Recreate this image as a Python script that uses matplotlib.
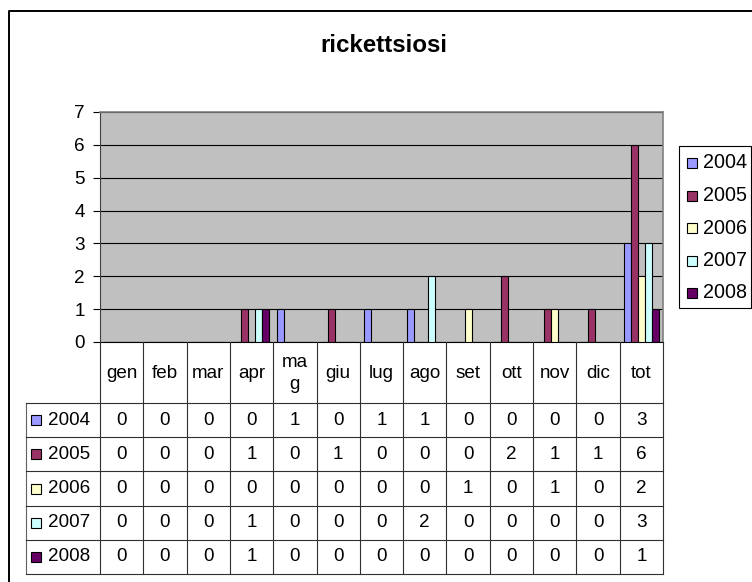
import numpy as np
import matplotlib
matplotlib.use("Agg")
import matplotlib.pyplot as plt
from matplotlib.patches import Rectangle

plt.rcParams["font.family"] = ["Liberation Sans", "DejaVu Sans"]

# Datos del grafico
title = "rickettsiosi"
months = ["gen", "feb", "mar", "apr", "mag", "giu", "lug", "ago", "set", "ott", "nov", "dic", "tot"]
years = ["2004", "2005", "2006", "2007", "2008"]
v2004 = [0, 0, 0, 0, 1, 0, 1, 1, 0, 0, 0, 0, 3]
v2005 = [0, 0, 0, 1, 0, 1, 0, 0, 0, 2, 1, 1, 6]
v2006 = [0, 0, 0, 0, 0, 0, 0, 0, 1, 0, 1, 0, 2]
v2007 = [0, 0, 0, 1, 0, 0, 0, 2, 0, 0, 0, 0, 3]
v2008 = [0, 0, 0, 1, 0, 0, 0, 0, 0, 0, 0, 0, 1]
series = [v2004, v2005, v2006, v2007, v2008]
colors = ["#9999FF", "#993366", "#FFFFCC", "#CCFFFF", "#660066"]
yticks = [0, 1, 2, 3, 4, 5, 6, 7]

W, H = 752, 582
FS = 13.6

fig = plt.figure(figsize=(W / 100, H / 100), dpi=100)

# Area del grafico (coordenadas en pixeles)
px_l, px_r, px_t, px_b = 100, 663, 112, 342
ax = fig.add_axes([px_l / W, (H - px_b) / H, (px_r - px_l) / W, (px_b - px_t) / H])
ax.set_facecolor("#C0C0C0")
ax.set_xlim(-0.5, len(months) - 0.5)
ax.set_ylim(0, 7)
ax.set_yticks(yticks)
ax.set_xticks([])
ax.tick_params(axis="y", length=5, width=0.8, pad=6, labelsize=FS, direction="out")
ax.yaxis.grid(True, color="black", linewidth=0.8)
ax.set_axisbelow(True)
for s in ["top", "right"]:
    ax.spines[s].set_color("#808080")
    ax.spines[s].set_linewidth(1.2)
ax.spines["left"].set_color("#404040")
ax.spines["bottom"].set_color("black")

x = np.arange(len(months))
bw = 0.162
for k, (vals, c) in enumerate(zip(series, colors)):
    ax.bar(x + (k - 2) * bw, vals, width=bw, color=c, edgecolor="black",
           linewidth=0.8, zorder=3)

# Capa superpuesta en pixeles para marco, titulo, leyenda y tabla
ov = fig.add_axes([0, 0, 1, 1], zorder=5)
ov.set_xlim(0, W)
ov.set_ylim(H, 0)
ov.axis("off")
ov.patch.set_alpha(0)

# Marco exterior
ov.plot([9, 9, W], [H, 11, 11], color="black", linewidth=1.4, solid_capstyle="butt")

ov.text(384, 46, title, ha="center", va="center", fontsize=17.4, fontweight="bold")

# Leyenda
ov.add_patch(Rectangle((679, 146), 72, 162, facecolor="white", edgecolor="black", linewidth=0.8))
leg_y0, leg_dy = 163, 32.5
for k, (yr, c) in enumerate(zip(years, colors)):
    yy = leg_y0 + k * leg_dy
    ov.add_patch(Rectangle((687, yy - 5), 10, 10, facecolor=c, edgecolor="black", linewidth=0.8))
    ov.text(703, yy, yr, ha="left", va="center", fontsize=14.2)

# Tabla de datos
col_w = (px_r - px_l) / len(months)
col_edges = [px_l + i * col_w for i in range(len(months) + 1)]
head_b = 403
row_h = 34.2
row_edges = [head_b + r * row_h for r in range(len(years) + 1)]
lab_l = 26
lc = "#303030"
lw = 0.8

# lineas verticales del encabezado y cuerpo
for xe in col_edges:
    ov.plot([xe, xe], [px_b, row_edges[-1]], color=lc, linewidth=lw)
ov.plot([lab_l, lab_l], [head_b, row_edges[-1]], color="#606060", linewidth=lw)
for ye in row_edges:
    ov.plot([lab_l, px_r], [ye, ye], color=lc, linewidth=lw)

for i, m in enumerate(months):
    lab = "ma\ng" if m == "mag" else m
    ov.text(col_edges[i] + col_w / 2, (px_b + head_b) / 2 + 1, lab, ha="center", va="center",
            fontsize=FS, linespacing=1.45)

for r, (yr, c, vals) in enumerate(zip(years, colors, series)):
    yc = row_edges[r] + row_h / 2
    ov.add_patch(Rectangle((31, yc - 5), 10, 10, facecolor=c, edgecolor="black", linewidth=0.8))
    ov.text(48, yc, yr, ha="left", va="center", fontsize=FS)
    for i, v in enumerate(vals):
        ov.text(col_edges[i] + col_w / 2, yc, str(v), ha="center", va="center", fontsize=FS)

fig.savefig("out.png", dpi=100)
